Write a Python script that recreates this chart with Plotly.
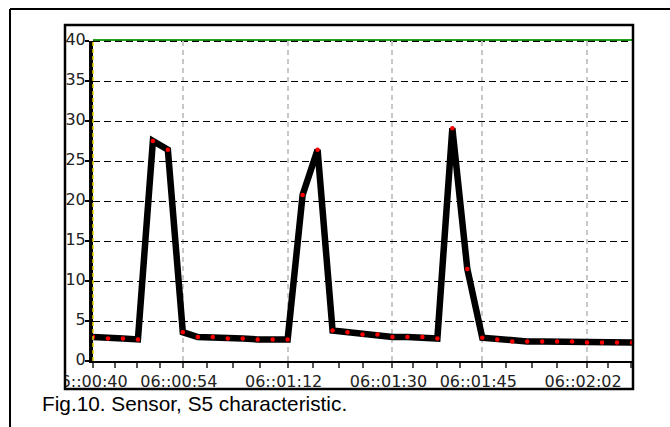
import plotly.graph_objects as go

# ---- data ----
sample_index = list(range(37))
sensor_values = [3.0, 2.8, 2.8, 2.7, 27.5, 26.4, 3.6, 3.0, 3.0, 2.8, 2.8, 2.7, 2.7, 2.7,
                 20.75, 26.4, 3.8, 3.6, 3.3, 3.3, 3.0, 3.0, 3.0, 2.8, 29.1, 11.5, 2.9,
                 2.7, 2.45, 2.45, 2.45, 2.45, 2.45, 2.3, 2.3, 2.3, 2.3]
tick_index = [0, 6, 13, 20, 26, 33]
tick_labels = ["06::00:40", "06::00:54", "06::01:12", "06::01:30", "06::01:45", "06::02:02"]
minor_tick_index = [1.47, 2.94, 4.48, 7.62, 9.35, 11.16, 14.7, 16.4, 18.0, 21.4, 23.0,
                    24.5, 27.6, 29.3, 31.0, 34.4, 35.9]
caption = "Fig.10. Sensor, S5 characteristic."

W, H = 670, 427
L, R, T, B = 93, 632, 41, 361


def px(x):
    return (x - L) / (R - L)


def py(y):
    return (B - y) / (B - T)


fig = go.Figure()
fig.add_trace(go.Scatter(
    x=sample_index, y=sensor_values, mode="lines+markers",
    line=dict(color="black", width=6.5),
    marker=dict(color="#ff0000", size=4.5),
    cliponaxis=False, showlegend=False, hoverinfo="skip"))

tickfont = dict(family="DejaVu Sans", size=16, color="#222222")

fig.update_layout(
    width=W, height=H, autosize=False,
    margin=dict(l=L, r=W - R, t=T, b=H - B, pad=0),
    paper_bgcolor="white", plot_bgcolor="rgba(0,0,0,0)",
    xaxis=dict(range=[0, 36], tickmode="array", tickvals=tick_index, ticktext=tick_labels,
               showgrid=True, gridcolor="#c8c8c8", griddash="5px,4px", gridwidth=1.5,
               showline=True, linecolor="black", linewidth=2,
               ticks="outside", ticklen=5, tickwidth=1.5, tickcolor="#555555",
               minor=dict(tickmode="array", tickvals=minor_tick_index, ticks="outside",
                          ticklen=5, tickwidth=1.5, tickcolor="#555555", showgrid=False),
               zeroline=False, tickfont=tickfont, ticklabelshift=-4),
    yaxis=dict(range=[0, 40], tick0=0, dtick=5,
               showgrid=True, gridcolor="black", griddash="7px,4px", gridwidth=1.3,
               showline=True, linecolor="black", linewidth=4,
               ticks="outside", ticklen=4, tickwidth=1.5, tickcolor="black",
               zeroline=False, tickfont=tickfont, ticklabelstandoff=-4, ticklabelshift=-2),
)

shapes = [
    # green limit line at the top
    dict(type="line", xref="paper", yref="paper", x0=0, x1=1, y0=1.003, y1=1.003,
         line=dict(color="#1fa31f", width=2), layer="below"),
    # dashed grid line at the top over the green line
    dict(type="line", xref="paper", yref="paper", x0=0, x1=1, y0=0.999, y1=0.999,
         line=dict(color="black", width=1.3, dash="7px,4px"), layer="below"),
    # yellow dashes inside the y axis
    dict(type="line", xref="paper", yref="paper", x0=0, x1=0, y0=0, y1=1,
         line=dict(color="#e8d000", width=1.5, dash="4px,3px"), layer="above"),
    # white mask clipping the first x label at the frame
    dict(type="rect", xref="paper", yref="paper", x0=px(11.5), x1=px(64), y0=py(388), y1=py(364),
         fillcolor="white", line=dict(width=0), layer="above"),
    # inner chart frame
    dict(type="rect", xref="paper", yref="paper", x0=px(65), x1=px(633), y0=py(389), y1=py(25),
         line=dict(color="black", width=2.5), layer="above"),
    # outer page frame (top and left)
    dict(type="line", xref="paper", yref="paper", x0=px(10), x1=px(672), y0=py(9), y1=py(9),
         line=dict(color="black", width=2), layer="above"),
    dict(type="line", xref="paper", yref="paper", x0=px(10), x1=px(10), y0=py(9), y1=py(430),
         line=dict(color="black", width=2), layer="above"),
]
fig.update_layout(shapes=shapes)

fig.add_annotation(text=caption, xref="paper", yref="paper", x=px(40), y=py(403),
                   xanchor="left", yanchor="middle", showarrow=False,
                   font=dict(family="Liberation Sans", size=20.8, color="black"))

fig.write_html("out.html")
